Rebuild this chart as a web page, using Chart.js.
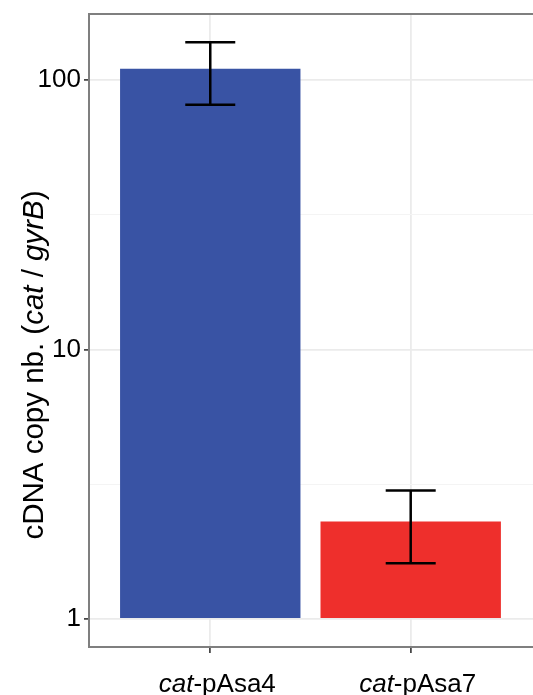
<!DOCTYPE html>
<html>
<head>
<meta charset="utf-8">
<script src="https://cdn.jsdelivr.net/npm/chart.js@4/dist/chart.umd.min.js"></script>
<style>
  html, body { margin: 0; padding: 0; overflow: hidden; background: #fff; }
  #wrap { width: 533px; height: 695px; overflow: hidden; }
  canvas { display: block; }
</style>
</head>
<body>
<div id="wrap"><canvas id="c" width="545" height="695"></canvas></div>
<script>
// Constructs and their cDNA copy numbers (cat / gyrB)
const constructs = ['pAsa4', 'pAsa7'];
const geneTag = 'cat';
const copyNumber = [110, 2.3];
const errLow = [81, 1.61];
const errHigh = [138, 3.0];
const barColors = ['#3953A4', '#EE2F2C'];
const majorTicks = [1, 10, 100];
const minorTicks = [3.1623, 31.623];

const FONT = '"Liberation Sans", Arial, Helvetica, sans-serif';

const points = copyNumber.map((v, i) => ({ x: i + 1, y: v }));

// error bars drawn on top of the bars
const errorBars = {
  id: 'errorBars',
  afterDatasetsDraw(chart) {
    const { ctx, scales: { x, y } } = chart;
    ctx.save();
    ctx.strokeStyle = '#000';
    ctx.lineWidth = 2.5;
    errLow.forEach((lo, i) => {
      const px = x.getPixelForValue(i + 1);
      const yl = y.getPixelForValue(lo);
      const yh = y.getPixelForValue(errHigh[i]);
      const half = 25;
      ctx.beginPath();
      ctx.moveTo(px, yl); ctx.lineTo(px, yh);
      ctx.moveTo(px - half, yh); ctx.lineTo(px + half, yh);
      ctx.moveTo(px - half, yl); ctx.lineTo(px + half, yl);
      ctx.stroke();
    });
    ctx.restore();
  }
};

// draws runs of text where some parts are italic
function drawRuns(ctx, runs, size, x, y) {
  let total = 0;
  runs.forEach(r => {
    ctx.font = (r[1] ? 'italic ' : '') + size + 'px ' + FONT;
    total += ctx.measureText(r[0]).width;
  });
  let cx = x - total / 2;
  runs.forEach(r => {
    ctx.font = (r[1] ? 'italic ' : '') + size + 'px ' + FONT;
    ctx.fillText(r[0], cx, y);
    cx += ctx.measureText(r[0]).width;
  });
}

// panel frame, category labels and axis title
const decorations = {
  id: 'decorations',
  afterDraw(chart) {
    const { ctx, chartArea: a, scales: { x } } = chart;
    ctx.save();
    ctx.strokeStyle = '#7f7f7f';
    ctx.lineWidth = 2;
    ctx.strokeRect(a.left - 1, a.top, a.right - a.left + 10, a.bottom - a.top);

    ctx.fillStyle = '#000';
    ctx.textBaseline = 'alphabetic';
    ctx.textAlign = 'left';
    constructs.forEach((name, i) => {
      const px = x.getPixelForValue(i + 1) + 7;
      drawRuns(ctx, [[geneTag, true], ['-' + name, false]], 26, px, 692);
    });

    ctx.translate(43, 365);
    ctx.rotate(-Math.PI / 2);
    drawRuns(ctx, [['cDNA copy nb. (', false], ['cat', true], [' / ', false], ['gyrB', true], [')', false]], 29.5, 0, 0);
    ctx.restore();
  }
};

new Chart(document.getElementById('c'), {
  type: 'bar',
  data: {
    datasets: [{
      data: points,
      base: 1,
      backgroundColor: barColors,
      borderWidth: 0,
      barPercentage: 0.9,
      categoryPercentage: 1.0
    }]
  },
  options: {
    responsive: false,
    animation: false,
    layout: { padding: { top: 14, right: 0, left: 0, bottom: 0 } },
    plugins: { legend: { display: false }, tooltip: { enabled: false } },
    scales: {
      x: {
        type: 'linear',
        min: 0.4,
        max: 2.67,
        offset: false,
        afterBuildTicks(scale) { scale.ticks = constructs.map((c, i) => ({ value: i + 1 })); },
        afterFit(scale) { scale.height = 48; scale.paddingLeft = 0; scale.paddingRight = 0; },
        ticks: { callback: () => '', padding: 0 },
        grid: { offset: false, color: '#ebebeb', lineWidth: 1.8, tickLength: 6, tickColor: '#333', tickWidth: 1.6 },
        border: { display: false }
      },
      y: {
        type: 'logarithmic',
        min: 0.787,
        max: 175.8,
        afterBuildTicks(scale) {
          const t = majorTicks.map(v => ({ value: v, major: true }))
            .concat(minorTicks.map(v => ({ value: v, major: false })));
          t.sort((p, q) => p.value - q.value);
          scale.ticks = t;
        },
        afterFit(scale) { scale.width = 90; scale.paddingTop = 0; scale.paddingBottom = 0; },
        ticks: {
          padding: 3,
          color: '#000',
          font: { family: FONT, size: 26 },
          callback: (v) => majorTicks.includes(v) ? String(v) : ''
        },
        grid: {
          color: (c) => (c.tick && c.tick.major) ? '#ebebeb' : '#f4f4f4',
          lineWidth: (c) => (c.tick && c.tick.major) ? 1.8 : 1,
          tickLength: 6,
          tickColor: (c) => (c.tick && c.tick.major) ? '#333' : 'rgba(0,0,0,0)',
          tickWidth: 1.6
        },
        border: { display: false }
      }
    }
  },
  plugins: [errorBars, decorations]
});
</script>
</body>
</html>
